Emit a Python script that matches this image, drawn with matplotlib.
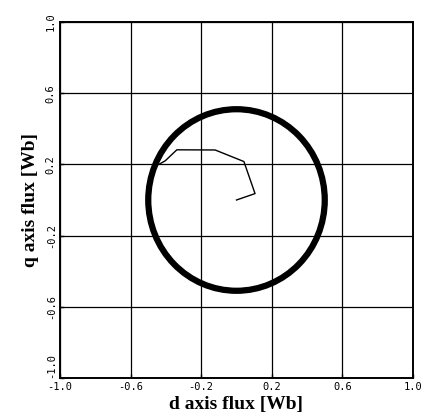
import matplotlib
matplotlib.use("Agg")
import matplotlib.pyplot as plt
from matplotlib.patches import Ellipse

# steady-state flux locus
circle_center = (0.0, 0.0)
circle_width = 1.0
circle_height = 1.02

# start-up trajectory of the flux vector
d_flux = [0.0, 0.105, 0.042, -0.121, -0.338, -0.404, -0.44]
q_flux = [0.0, 0.036, 0.216, 0.281, 0.282, 0.22, 0.2]

ticks = [-1.0, -0.6, -0.2, 0.2, 0.6, 1.0]
tick_labels = ["-1.0", "-0.6", "-0.2", "0.2", "0.6", "1.0"]

fig = plt.figure(figsize=(4.27, 4.19), dpi=100)
ax = fig.add_axes([60 / 427, 41 / 419, 353 / 427, 356 / 419])

ax.add_patch(Ellipse(circle_center, circle_width, circle_height,
                     fill=False, edgecolor="black", linewidth=4.5))
ax.plot(d_flux, q_flux, color="black", linewidth=1.0)

ax.set_xlim(-1.0, 1.0)
ax.set_ylim(-1.0, 1.0)
ax.set_xticks(ticks)
ax.set_yticks(ticks)
ax.set_xticklabels(tick_labels, fontsize=7.5, family="DejaVu Sans Mono")
ax.set_yticklabels(tick_labels, fontsize=7.5, family="DejaVu Sans Mono",
                   rotation=90, va="center")
ax.get_yticklabels()[0].set_va("bottom")
ax.tick_params(direction="in", length=3, width=1, pad=3)
ax.grid(True, color="black", linewidth=0.9)
for s in ax.spines.values():
    s.set_linewidth(1.4)

ax.set_xlabel("d axis flux [Wb]", fontsize=14, fontweight="bold",
              family="Liberation Serif", labelpad=3)
ax.set_ylabel("q axis flux [Wb]", fontsize=14, fontweight="bold",
              family="Liberation Serif", labelpad=5)

fig.savefig("out.png", dpi=100)
